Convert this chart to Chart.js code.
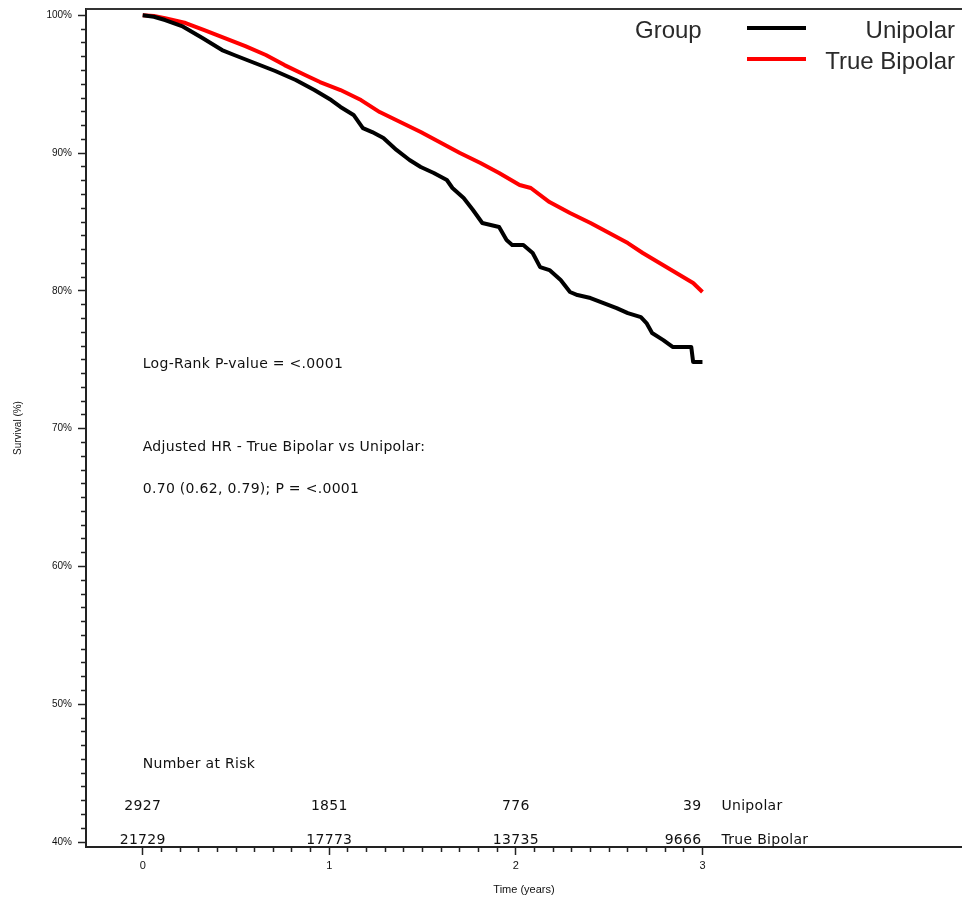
<!DOCTYPE html>
<html>
<head>
<meta charset="utf-8">
<script src="https://cdn.jsdelivr.net/npm/chart.js@4/dist/chart.umd.min.js"></script>
<style>
  html, body { margin: 0; padding: 0; background: #fff; overflow: hidden; }
  #wrap { width: 962px; height: 902px; }
</style>
</head>
<body>
<div id="wrap"><canvas id="c" width="962" height="902"></canvas></div>
<script>
// ---- data ----
const seriesNames = ['Unipolar', 'True Bipolar'];
const unipolarTime = [0, 0.06, 0.12, 0.21, 0.32, 0.425, 0.49, 0.60, 0.71, 0.82, 0.92, 1.01, 1.06, 1.13, 1.18, 1.23, 1.29, 1.36, 1.43, 1.49, 1.56, 1.63, 1.66, 1.72, 1.77, 1.82, 1.91, 1.95, 1.98, 2.04, 2.09, 2.13, 2.18, 2.24, 2.29, 2.33, 2.40, 2.47, 2.54, 2.60, 2.67, 2.70, 2.73, 2.79, 2.84, 2.94, 2.95, 3.0];
const unipolarSurv = [100, 99.9, 99.66, 99.22, 98.35, 97.48, 97.12, 96.54, 95.96, 95.31, 94.58, 93.85, 93.35, 92.77, 91.82, 91.53, 91.10, 90.23, 89.50, 88.99, 88.56, 88.05, 87.47, 86.74, 85.87, 84.93, 84.64, 83.69, 83.33, 83.33, 82.75, 81.73, 81.51, 80.79, 79.92, 79.70, 79.48, 79.12, 78.75, 78.39, 78.10, 77.67, 76.94, 76.43, 75.93, 75.93, 74.84, 74.84];
const bipolarTime = [0, 0.06, 0.12, 0.23, 0.33, 0.44, 0.55, 0.66, 0.76, 0.87, 0.95, 1.06, 1.17, 1.27, 1.38, 1.49, 1.59, 1.70, 1.81, 1.91, 2.02, 2.08, 2.18, 2.29, 2.40, 2.50, 2.60, 2.68, 2.77, 2.86, 2.95, 3.0];
const bipolarSurv = [100, 99.95, 99.80, 99.44, 98.93, 98.35, 97.77, 97.12, 96.39, 95.67, 95.16, 94.58, 93.85, 92.98, 92.26, 91.53, 90.81, 90.01, 89.28, 88.56, 87.69, 87.47, 86.45, 85.65, 84.93, 84.20, 83.47, 82.75, 82.02, 81.30, 80.57, 79.92];

const atRiskTimes = [0, 1, 2, 3];
const unipolarAtRisk = [2927, 1851, 776, 39];
const bipolarAtRisk = [21729, 17773, 13735, 9666];

const xMajorTicks = [0, 1, 2, 3];
const yMajorTicks = [40, 50, 60, 70, 80, 90, 100];

const legendTitle = 'Group';
const atRiskTitle = 'Number at Risk';
const statLines = [
  'Log-Rank P-value = <.0001',
  'Adjusted HR - True Bipolar vs Unipolar:',
  '0.70 (0.62, 0.79); P = <.0001'
];
const xTitle = 'Time (years)';
const yTitle = 'Survival (%)';

// ---- build ----
function pts(t, s) { return t.map((v, i) => ({ x: v, y: s[i] })); }

const annFont = '14px "DejaVu Sans", sans-serif';

const overlay = {
  id: 'overlay',
  afterDraw(chart) {
    const ctx = chart.ctx;
    const ca = chart.chartArea;
    const xs = chart.scales.x;
    ctx.save();
    // top frame line
    ctx.strokeStyle = '#333';
    ctx.lineWidth = 2;
    ctx.beginPath();
    ctx.moveTo(ca.left, ca.top);
    ctx.lineTo(ca.right, ca.top);
    ctx.stroke();

    // legend
    ctx.font = '24px "Liberation Sans", Arial, sans-serif';
    ctx.fillStyle = '#2a2a2a';
    ctx.textBaseline = 'alphabetic';
    ctx.textAlign = 'left';
    ctx.fillText(legendTitle, 635, 38);
    const ly = [28, 59];
    const lb = [38, 69];
    chart.data.datasets.forEach((ds, i) => {
      ctx.strokeStyle = ds.borderColor;
      ctx.lineWidth = 4;
      ctx.beginPath();
      ctx.moveTo(747, ly[i]);
      ctx.lineTo(806, ly[i]);
      ctx.stroke();
      ctx.textAlign = 'right';
      ctx.fillStyle = '#2a2a2a';
      ctx.fillText(ds.label, 955, lb[i]);
    });

    // statistics text
    const x0 = xs.getPixelForValue(0);
    ctx.font = annFont;
    try { ctx.letterSpacing = '0.3px'; } catch (e) {}
    ctx.fillStyle = '#111';
    ctx.textAlign = 'left';
    const statBase = [368, 451, 493];
    statLines.forEach((s, i) => ctx.fillText(s, x0, statBase[i]));

    // number at risk
    ctx.fillText(atRiskTitle, x0, 768);
    const rows = [unipolarAtRisk, bipolarAtRisk];
    const rowBase = [810, 844];
    rows.forEach((row, r) => {
      row.forEach((n, i) => {
        const px = xs.getPixelForValue(atRiskTimes[i]);
        if (i === row.length - 1) {
          ctx.textAlign = 'right';
          ctx.fillText(String(n), px - 1, rowBase[r]);
        } else {
          ctx.textAlign = 'center';
          ctx.fillText(String(n), px, rowBase[r]);
        }
      });
      ctx.textAlign = 'left';
      const lastX = xs.getPixelForValue(atRiskTimes[atRiskTimes.length - 1]);
      ctx.fillText(seriesNames[r], lastX + 19, rowBase[r]);
    });
    ctx.restore();
  }
};

function fixPad(scale) {
  scale.paddingTop = 0; scale.paddingBottom = 0;
  scale.paddingLeft = 0; scale.paddingRight = 0;
}

new Chart(document.getElementById('c'), {
  type: 'line',
  data: {
    datasets: [
      { label: seriesNames[0], data: pts(unipolarTime, unipolarSurv), borderColor: '#000000', borderWidth: 4, pointRadius: 0, tension: 0, fill: false, borderJoinStyle: 'round' },
      { label: seriesNames[1], data: pts(bipolarTime, bipolarSurv), borderColor: '#ff0000', borderWidth: 4, pointRadius: 0, tension: 0, fill: false, borderJoinStyle: 'round' }
    ]
  },
  options: {
    responsive: false,
    devicePixelRatio: 1,
    animation: false,
    layout: { padding: { top: 9, left: 0, right: 0, bottom: 0 } },
    plugins: { legend: { display: false }, tooltip: { enabled: false } },
    scales: {
      x: {
        type: 'linear',
        min: -0.304,
        max: 4.391,
        afterBuildTicks(scale) {
          const t = [];
          for (let i = 0; i <= 30; i++) t.push({ value: i / 10 });
          scale.ticks = t;
        },
        afterFit(scale) { scale.height = 55; fixPad(scale); },
        ticks: {
          autoSkip: false,
          maxRotation: 0,
          padding: 4,
          color: '#111',
          font: { family: '"Liberation Sans", Arial, sans-serif', size: 11 },
          callback(v) {
            const r = Math.round(v * 10) / 10;
            return xMajorTicks.includes(r) ? String(r) : '';
          }
        },
        grid: {
          drawOnChartArea: false,
          tickLength: 8,
          tickWidth: 1.5,
          tickColor: '#222',
          tickBorderDash(ctx) {
            const v = ctx.tick ? Math.round(ctx.tick.value * 10) / 10 : 0;
            return xMajorTicks.includes(v) ? [] : [4, 100];
          }
        },
        border: { display: true, color: '#222', width: 2 },
        title: {
          display: true,
          text: xTitle,
          color: '#111',
          font: { family: '"Liberation Sans", Arial, sans-serif', size: 11 },
          padding: { top: 0, bottom: 5 }
        }
      },
      y: {
        type: 'linear',
        min: 39.64,
        max: 100.46,
        afterBuildTicks(scale) {
          const t = [];
          for (let v = 40; v <= 100; v++) t.push({ value: v });
          scale.ticks = t;
        },
        afterFit(scale) { scale.width = 86; fixPad(scale); },
        ticks: {
          autoSkip: false,
          padding: 6,
          color: '#111',
          font: { family: '"Liberation Sans", Arial, sans-serif', size: 10 },
          callback(v) {
            const r = Math.round(v);
            return yMajorTicks.includes(r) ? r + '%' : '';
          }
        },
        grid: {
          drawOnChartArea: false,
          tickLength: 8,
          tickWidth: 1.5,
          tickColor: '#222',
          tickBorderDash(ctx) {
            const v = ctx.tick ? Math.round(ctx.tick.value) : 0;
            return yMajorTicks.includes(v) ? [] : [0, 3, 5, 100];
          }
        },
        border: { display: true, color: '#222', width: 2 },
        title: {
          display: true,
          text: yTitle,
          color: '#111',
          font: { family: '"Liberation Sans", Arial, sans-serif', size: 10 },
          padding: { top: 12, bottom: 0 }
        }
      }
    }
  },
  plugins: [overlay]
});
</script>
</body>
</html>
